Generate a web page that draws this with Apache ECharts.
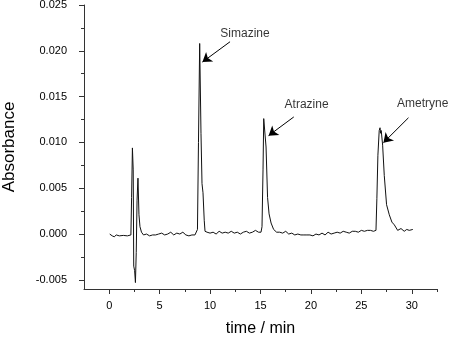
<!DOCTYPE html>
<html>
<head>
<meta charset="utf-8">
<script src="https://cdn.jsdelivr.net/npm/echarts@6/dist/echarts.min.js"></script>
<style>
  html, body { margin: 0; padding: 0; background: #fff; }
  #chart { width: 450px; height: 337px; }
</style>
</head>
<body>
<div id="chart"></div>
<script>
// chromatogram trace
const timeMin = [
  0.05, 0.3, 0.5, 0.7, 1.0, 1.4, 1.8, 2.15, 2.22, 2.3, 2.38, 2.43, 2.52, 2.6, 2.68, 2.76, 2.85, 2.95, 3.05, 3.2,
  3.4, 3.7, 4.0, 4.3, 4.6, 4.9, 5.2, 5.5, 5.8, 6.1, 6.4, 6.7, 7.0, 7.3, 7.6, 7.9, 8.2, 8.5, 8.65,
  8.75, 8.85, 8.97, 9.1, 9.2, 9.3, 9.42, 9.5,
  9.7, 10.0, 10.3, 10.6, 10.9, 11.2, 11.5, 11.8, 12.1, 12.4, 12.7, 13.0, 13.3, 13.6, 13.9, 14.2, 14.5, 14.8, 15.05,
  15.15, 15.25, 15.32, 15.48, 15.55, 15.7, 15.85, 16.05, 16.3, 16.6,
  16.9, 17.2, 17.5, 17.8, 18.1, 18.4, 18.7, 19.0, 19.3, 19.6, 19.9, 20.2, 20.5, 20.8, 21.1, 21.4, 21.7, 22.0,
  22.3, 22.6, 22.9, 23.2, 23.5, 23.8, 24.1, 24.4, 24.7, 25.0, 25.3, 25.6, 25.9, 26.2, 26.45,
  26.54, 26.64, 26.77, 26.85, 26.91, 26.97, 27.11, 27.27, 27.5, 27.77, 28.03, 28.27, 28.6, 28.93, 29.25, 29.5, 29.75, 30.1
];
const absorbance = [
  0.0000, -0.0002, -0.0003, -0.0001, -0.0002, -0.00015, -0.0002, -0.0001, 0.0040, 0.0094, 0.0070, -0.0035, -0.0040, -0.0053, -0.0020, 0.0037, 0.0061, 0.0021, 0.0008, 0.0002,
  -0.0001, 0.0000, -0.0002, -0.0001, -0.0001, 0.0000, 0.0001, -0.0001, 0.0000, 0.0002, -0.0001, 0.0001, 0.0000, 0.0002, -0.0001, -0.0002, -0.0001, -0.0001, 0.0000,
  0.0005, 0.0100, 0.0208, 0.0110, 0.0055, 0.0045, 0.0015, 0.0003,
  0.0002, 0.0001, 0.0002, 0.0000, 0.0003, 0.0001, 0.0002, 0.0001, 0.0003, 0.0001, 0.0002, 0.0000, 0.0002, 0.0003, 0.0001, 0.0002, 0.0004, 0.0002, 0.0002,
  0.0008, 0.0070, 0.0126, 0.0124, 0.0095, 0.0040, 0.0022, 0.0012, 0.0005, 0.0002,
  0.0002, 0.0001, 0.0003, 0.0000, 0.0001, -0.0001, 0.0000, -0.0001, -0.0001, -0.0001, -0.0001, -0.0002, 0.0000, -0.0001, 0.0001, -0.0001, 0.0002, 0.0000,
  0.0001, 0.0002, 0.0001, 0.0003, 0.0002, 0.0001, 0.0003, 0.0003, 0.0002, 0.0004, 0.0003, 0.0004, 0.0004, 0.0003, 0.0004,
  0.0039, 0.0086, 0.0113, 0.0116, 0.0110, 0.0113, 0.0097, 0.0064, 0.0032, 0.0021, 0.0013, 0.0010, 0.0004, 0.0006, 0.0003, 0.0005, 0.0004, 0.0005
];

const xTicks = [0, 5, 10, 15, 20, 25, 30];
const xMinorTicks = [2.5, 7.5, 12.5, 17.5, 22.5, 27.5, 32.5];
const yTicks = [-0.005, 0, 0.005, 0.010, 0.015, 0.020, 0.025];
const yMinorTicks = [-0.0025, 0.0025, 0.0075, 0.0125, 0.0175, 0.0225];

// peak names: label point, arrow tail, arrow head (time, absorbance)
const peakNames = ['Simazine', 'Atrazine', 'Ametryne'];
const labelAt = [[13.46, 0.02186], [19.57, 0.01416], [31.08, 0.01421]];
const arrowFrom = [[11.98, 0.02099], [18.30, 0.01278], [29.67, 0.01269]];
const arrowTo = [[9.24, 0.01877], [15.80, 0.01074], [27.19, 0.00997]];

const chart = echarts.init(document.getElementById('chart'));

const font = 'Liberation Sans, Arial, sans-serif';
const tickStyle = { color: '#333', width: 1 };

const option = {
  animation: false,
  backgroundColor: '#fff',
  // fixed plot box, don't let axis names push it around
  grid: { left: 84, right: 13, top: 5, bottom: 48, outerBoundsMode: 'none' },
  xAxis: [
    {
      type: 'value',
      position: 'bottom',
      min: -2.5,
      max: 32.5,
      splitLine: { show: false },
      axisLine: { show: true, onZero: false, lineStyle: tickStyle },
      name: 'time / min',
      nameLocation: 'middle',
      nameGap: 32,
      nameTextStyle: { fontFamily: font, fontSize: 16, color: '#000' },
      axisTick: { show: true, length: 5, customValues: xTicks, lineStyle: tickStyle },
      axisLabel: { customValues: xTicks, fontFamily: font, fontSize: 11, color: '#000', margin: 11 }
    },
    {
      // minor ticks only
      type: 'value',
      position: 'bottom',
      min: -2.5,
      max: 32.5,
      splitLine: { show: false },
      axisLine: { show: false, onZero: false },
      axisTick: { show: true, length: 3, customValues: xMinorTicks, lineStyle: tickStyle },
      axisLabel: { show: false, customValues: xMinorTicks }
    }
  ],
  yAxis: [
    {
      type: 'value',
      position: 'left',
      min: -0.006,
      max: 0.025,
      splitLine: { show: false },
      axisLine: { show: true, onZero: false, lineStyle: tickStyle },
      name: 'Absorbance',
      nameLocation: 'middle',
      nameGap: 66,
      nameRotate: 90,
      nameTextStyle: { fontFamily: font, fontSize: 17, color: '#000' },
      axisTick: { show: true, length: 5, customValues: yTicks, lineStyle: tickStyle },
      axisLabel: {
        customValues: yTicks, fontFamily: font, fontSize: 11, color: '#000', margin: 17,
        formatter: v => v.toFixed(3)
      }
    },
    {
      // minor ticks only
      type: 'value',
      position: 'left',
      min: -0.006,
      max: 0.025,
      splitLine: { show: false },
      axisLine: { show: false, onZero: false },
      axisTick: { show: true, length: 3, customValues: yMinorTicks, lineStyle: tickStyle },
      axisLabel: { show: false, customValues: yMinorTicks }
    }
  ],
  series: [
    {
      name: 'trace',
      type: 'line',
      xAxisIndex: 0,
      yAxisIndex: 0,
      data: timeMin.map((t, i) => [t, absorbance[i]]),
      showSymbol: false,
      symbol: 'none',
      lineStyle: { color: '#111', width: 1 },
      markLine: {
        silent: true,
        symbol: ['none', 'arrow'],
        symbolSize: 9,
        label: { show: false },
        lineStyle: { color: '#000', width: 1, type: 'solid' },
        data: arrowFrom.map((p, i) => [{ coord: p }, { coord: arrowTo[i] }])
      }
    },
    {
      name: 'labels',
      type: 'scatter',
      xAxisIndex: 0,
      yAxisIndex: 0,
      symbolSize: 1,
      itemStyle: { color: 'rgba(0,0,0,0)' },
      data: peakNames.map((n, i) => ({ name: n, value: labelAt[i] })),
      label: {
        show: true,
        position: 'inside',
        formatter: p => p.name,
        fontFamily: font,
        fontSize: 12,
        color: '#000'
      }
    }
  ]
};

chart.setOption(option);
</script>
</body>
</html>
